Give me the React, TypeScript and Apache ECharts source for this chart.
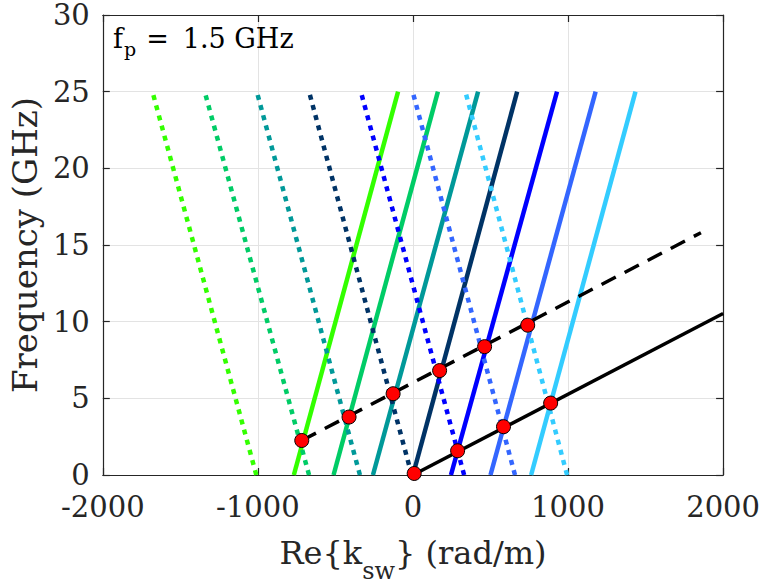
import React, { useEffect, useRef } from "react";
import * as echarts from "echarts";

// Band colours (one per folded branch)
const bandColors = ["#33ff00", "#00cc66", "#009999", "#003366", "#0000ff", "#3366ff", "#33ccff"];
// Solid (forward) branches: k at f = 0 and at f = 25 GHz
const solidBottomK = [-768, -512, -258, 0, 245, 500, 762];
const solidTopK = [-96, 161, 420, 672, 929, 1178, 1435];
// Dotted (backward) branches: k at f = 0 and at f = 25 GHz
const dottedBottomK = [-1010, -670, -342, -8, 330, 658, 994];
const dottedTopK = [-1680, -1343, -1007, -670, -336, -2, 338];
const bandFreq = [0, 25];
// Black solid line
const lowerLineK = [0, 2000];
const lowerLineF = [0, 10.53];
// Black dashed line
const upperLineK = [-717, 1857];
const upperLineF = [2.25, 15.8];
// Red markers
const lowerDotsK = [8, 288, 584, 888];
const lowerDotsF = [0.1, 1.58, 3.15, 4.69];
const upperDotsK = [-717, -412, -128, 172, 462, 740];
const upperDotsF = [2.25, 3.78, 5.3, 6.81, 8.37, 9.77];
// Axes
const xMin = -2000, xMax = 2000, xStep = 1000;
const yMin = 0, yMax = 30, yStep = 5;

const FONT = "DejaVu Serif";
const AX = "#262626";

export default function App() {
  const ref = useRef<HTMLDivElement>(null);
  useEffect(() => {
    if (!ref.current) return;
    const chart = echarts.init(ref.current, undefined, { renderer: "svg" });
    const series: any[] = [];
    bandColors.forEach((c, i) => {
      series.push({
        type: "line",
        data: [[dottedBottomK[i], bandFreq[0]], [dottedTopK[i], bandFreq[1]]],
        showSymbol: false,
        symbol: "none",
        lineStyle: { color: c, width: 4.5, type: [5, 5.5], cap: "butt" },
        z: 2,
      });
      series.push({
        type: "line",
        data: [[solidBottomK[i], bandFreq[0]], [solidTopK[i], bandFreq[1]]],
        showSymbol: false,
        symbol: "none",
        lineStyle: { color: c, width: 4.5, cap: "butt" },
        z: 2,
      });
    });
    series.push({
      type: "line",
      data: lowerLineK.map((k, i) => [k, lowerLineF[i]]),
      symbol: "none",
      lineStyle: { color: "#000", width: 3.5 },
      z: 3,
    });
    series.push({
      type: "line",
      data: upperLineK.map((k, i) => [k, upperLineF[i]]),
      symbol: "none",
      lineStyle: { color: "#000", width: 3.5, type: [16, 10], cap: "butt" },
      z: 3,
    });
    series.push({
      type: "scatter",
      data: [
        ...lowerDotsK.map((k, i) => [k, lowerDotsF[i]]),
        ...upperDotsK.map((k, i) => [k, upperDotsF[i]]),
      ],
      symbol: "circle",
      symbolSize: 14,
      itemStyle: { color: "#ff0000", borderColor: "#000", borderWidth: 1, opacity: 1 },
      z: 5,
    });

    const baseAxis = {
      type: "value",
      axisLine: { show: true, onZero: false, lineStyle: { color: AX, width: 1.2 } },
      axisTick: { show: true, inside: true, length: 7, lineStyle: { color: AX, width: 1.2 } },
    };
    const plain = (v: number) => String(v);

    chart.setOption({
      animation: false,
      textStyle: { fontFamily: FONT },
      grid: { left: 94, right: 36, top: 15, bottom: 111, containLabel: false },
      graphic: [
        {
          type: "text",
          left: 113,
          top: 25,
          z: 10,
          style: {
            text: "{i|f}{s|p}{e|=}{n|1.5 GHz}",
            fill: "#000",
            font: `27px ${FONT}`,
            rich: {
              i: { font: `27px ${FONT}`, fill: "#000" },
              s: { font: `19px ${FONT}`, fill: "#000", padding: [21, 0, 0, 1] },
              e: { font: `27px ${FONT}`, fill: "#000", padding: [0, 14, 0, 10] },
              n: { font: `27px ${FONT}`, fill: "#000" },
            },
          },
        },
      ],
      xAxis: [
        {
          ...baseAxis,
          min: xMin,
          max: xMax,
          interval: xStep,
          position: "bottom",
          axisLabel: { fontFamily: FONT, fontSize: 29, color: AX, margin: 17, formatter: plain },
          splitLine: { show: true, lineStyle: { color: "#e3e3e3", width: 1 } },
          name: "{a|Re{k}{b|sw}} (rad/m)",
          nameLocation: "middle",
          nameGap: 47,
          nameTextStyle: {
            fontFamily: FONT,
            fontSize: 32,
            color: AX,
            rich: {
              a: { fontFamily: FONT, fontSize: 32, color: AX },
              b: { fontFamily: FONT, fontSize: 24, color: AX, padding: [37, 0, 0, 0] },
            },
          },
        },
        {
          ...baseAxis,
          min: xMin,
          max: xMax,
          interval: xStep,
          position: "top",
          axisLabel: { show: false },
          splitLine: { show: false },
        },
      ],
      yAxis: [
        {
          ...baseAxis,
          min: yMin,
          max: yMax,
          interval: yStep,
          position: "left",
          axisLabel: { fontFamily: FONT, fontSize: 29, lineHeight: 24, color: AX, margin: 13, formatter: plain },
          splitLine: { show: true, lineStyle: { color: "#e3e3e3", width: 1 } },
          name: "Frequency (GHz)",
          nameLocation: "middle",
          nameGap: 54,
          nameTextStyle: { fontFamily: FONT, fontSize: 34, color: AX },
        },
        {
          ...baseAxis,
          min: yMin,
          max: yMax,
          interval: yStep,
          position: "right",
          axisLabel: { show: false },
          splitLine: { show: false },
        },
      ],
      series,
    });
    return () => chart.dispose();
  }, []);
  return (
    <div
      ref={ref}
      style={{ position: "fixed", left: 0, top: 0, width: 763, height: 588, background: "#fff" }}
    />
  );
}
